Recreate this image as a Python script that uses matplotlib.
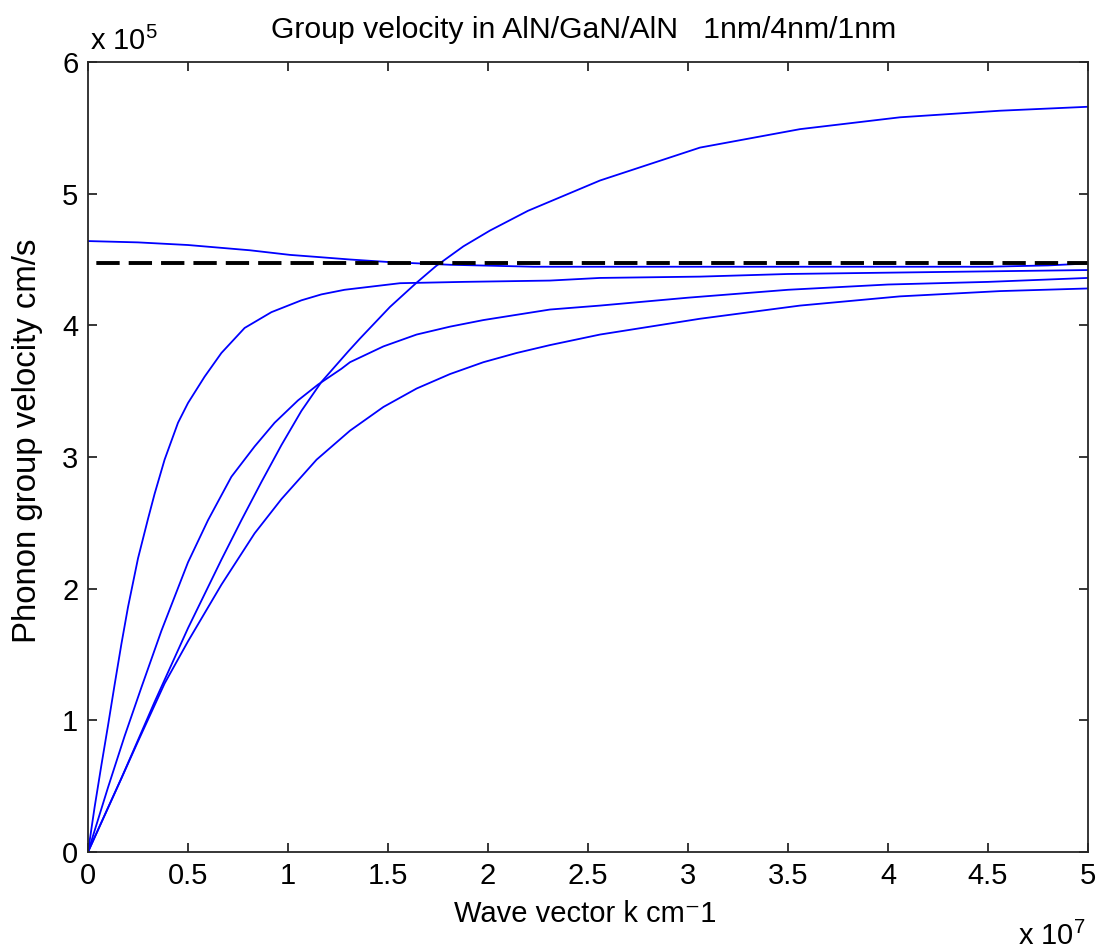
import matplotlib
matplotlib.use("Agg")
import matplotlib.pyplot as plt
from matplotlib.ticker import FixedLocator, FixedFormatter

plt.rcParams['font.family'] = ['Liberation Sans', 'DejaVu Sans']
plt.rcParams['mathtext.fontset'] = 'custom'
plt.rcParams['mathtext.rm'] = 'Liberation Sans'
plt.rcParams['mathtext.it'] = 'Liberation Sans'
plt.rcParams['lines.scale_dashes'] = False

# ---- data (k in units of 1e7 cm^-1, velocity in units of 1e5 cm/s) ----
k1 = [0, 0.25, 0.5, 0.81, 1.01, 1.14, 1.31, 1.51, 1.81, 2.23, 2.5, 3.0, 3.5, 4.0, 4.5, 4.8, 5.0]
v1 = [4.64, 4.63, 4.61, 4.57, 4.535, 4.52, 4.50, 4.48, 4.46, 4.445, 4.445, 4.445, 4.445, 4.445, 4.445, 4.455, 4.47]

k2 = [0, 0.033, 0.067, 0.1, 0.133, 0.167, 0.2, 0.25, 0.3, 0.333, 0.383, 0.45, 0.5, 0.583, 0.667, 0.783,
      0.917, 1.067, 1.167, 1.283, 1.56, 1.877, 2.31, 2.56, 3.06, 3.5, 4.0, 4.5, 5.0]
v2 = [0, 0.34, 0.66, 0.96, 1.27, 1.58, 1.86, 2.23, 2.53, 2.72, 2.98, 3.26, 3.41, 3.61, 3.79, 3.98,
      4.10, 4.19, 4.235, 4.27, 4.32, 4.33, 4.34, 4.36, 4.37, 4.39, 4.40, 4.41, 4.42]

k3 = [0, 0.1, 0.183, 0.267, 0.367, 0.5, 0.6, 0.717, 0.833, 0.933, 1.05, 1.15, 1.267, 1.31, 1.477, 1.643,
      1.81, 1.977, 2.143, 2.31, 2.56, 3.0, 3.5, 4.0, 4.5, 5.0]
v3 = [0, 0.49, 0.88, 1.25, 1.68, 2.20, 2.52, 2.85, 3.08, 3.26, 3.43, 3.55, 3.67, 3.72, 3.84, 3.93,
      3.99, 4.04, 4.08, 4.12, 4.15, 4.21, 4.27, 4.31, 4.33, 4.36]

k4 = [0, 0.167, 0.333, 0.5, 0.667, 0.767, 0.867, 0.967, 1.067, 1.167, 1.3, 1.36, 1.51, 1.64, 1.74, 1.877,
      2.01, 2.2, 2.56, 3.06, 3.56, 4.06, 4.56, 5.0]
v4 = [0, 0.56, 1.14, 1.70, 2.22, 2.52, 2.81, 3.09, 3.35, 3.57, 3.80, 3.90, 4.14, 4.32, 4.45, 4.60,
      4.72, 4.87, 5.10, 5.35, 5.49, 5.58, 5.63, 5.66]

k5 = [0, 0.167, 0.25, 0.383, 0.5, 0.667, 0.833, 0.967, 1.143, 1.31, 1.477, 1.643, 1.81, 1.977, 2.143, 2.31,
      2.56, 3.06, 3.56, 4.06, 4.56, 5.0]
v5 = [0, 0.56, 0.84, 1.28, 1.60, 2.03, 2.42, 2.68, 2.98, 3.20, 3.38, 3.52, 3.63, 3.72, 3.79, 3.85,
      3.93, 4.05, 4.15, 4.22, 4.26, 4.28]

k_ref = [0, 5.0]
v_ref = [4.47, 4.47]

curves_k = [k1, k2, k3, k4, k5]
curves_v = [v1, v2, v3, v4, v5]

x_ticks = [0, 0.5, 1, 1.5, 2, 2.5, 3, 3.5, 4, 4.5, 5]
x_ticklabels = ['0', '0.5', '1', '1.5', '2', '2.5', '3', '3.5', '4', '4.5', '5']
y_ticks = [0, 1, 2, 3, 4, 5, 6]
y_ticklabels = ['0', '1', '2', '3', '4', '5', '6']

title = 'Group velocity in AlN/GaN/AlN   1nm/4nm/1nm'
xlabel = 'Wave vector k cm\u207b1'
ylabel = 'Phonon group velocity cm/s'

FS = 21

fig = plt.figure(figsize=(11.07, 9.52), dpi=100)
ax = fig.add_axes([88/1107, 1 - 852/952, 1000/1107, 790/952])

for kk, vv in zip(curves_k, curves_v):
    ax.plot(kk, vv, color='#0000ff', lw=1.3, solid_joinstyle='round')

ax.plot(k_ref, v_ref, color='black', lw=2.8,
        linestyle=(17.3, (16.8, 6.5)))

ax.set_xlim(0, 5)
ax.set_ylim(0, 6)
ax.xaxis.set_major_locator(FixedLocator(x_ticks))
ax.xaxis.set_major_formatter(FixedFormatter(x_ticklabels))
ax.yaxis.set_major_locator(FixedLocator(y_ticks))
ax.yaxis.set_major_formatter(FixedFormatter(y_ticklabels))

ax.tick_params(direction='in', length=6.5, width=1.1, colors='black',
               labelsize=FS, top=True, right=True, pad=7)
for sp in ax.spines.values():
    sp.set_linewidth(1.3)
    sp.set_color('#262626')

fig.text(584/1107, 1 - 30/952, title, ha='center', va='center', fontsize=21.7)
fig.text(585/1107, 1 - 914/952, xlabel, ha='center', va='center', fontsize=FS)
fig.text(28/1107, 1 - 441/952, ylabel, ha='center', va='center', rotation=90, fontsize=23.8)

fig.text(90/1107, 1 - 50/952, r'x 10$^{5}$', ha='left', va='baseline', fontsize=FS)
fig.text(1018/1107, 1 - 945/952, r'x 10$^{7}$', ha='left', va='baseline', fontsize=FS)

fig.savefig('out.png', dpi=100, facecolor='white')
